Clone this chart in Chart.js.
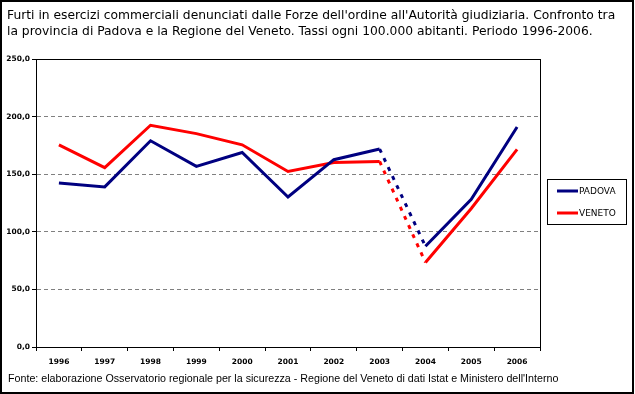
<!DOCTYPE html>
<html>
<head>
<meta charset="utf-8">
<script src="https://cdn.jsdelivr.net/npm/chart.js@4/dist/chart.umd.min.js"></script>
<style>
  html, body { margin: 0; padding: 0; background: #fff; }
  canvas { display: block; }
</style>
</head>
<body>
<canvas id="myChart" width="635" height="394"></canvas>
<script>
const years = ["1996", "1997", "1998", "1999", "2000", "2001", "2002", "2003", "2004", "2005", "2006"];
const padova = [142.3, 139.0, 179.0, 156.8, 168.8, 130.2, 162.6, 171.8, 87.4, 128.3, 191.0];
const veneto = [175.5, 155.7, 192.5, 185.2, 175.5, 152.4, 160.2, 161.1, 73.4, 120.2, 171.6];
const seriesNames = ["PADOVA", "VENETO"];
const seriesColors = ["#000080", "#ff0000"];

const titleLines = [
  "Furti in esercizi commerciali denunciati dalle Forze dell'ordine all'Autorità giudiziaria. Confronto tra",
  "la provincia di Padova e la Regione del Veneto. Tassi ogni 100.000 abitanti. Periodo 1996-2006."
];
const sourceNote = "Fonte: elaborazione Osservatorio regionale per la sicurezza - Regione del Veneto di dati Istat e Ministero dell'Interno";

// the 2003 -> 2004 step is drawn dotted in the original
const brokenStep = 7;

const tickFont = { family: "DejaVu Sans", size: 7.5, weight: "bold" };

const decorations = {
  id: "decorations",
  afterDraw(chart) {
    const ctx = chart.ctx;
    const area = chart.chartArea;
    ctx.save();

    // plot box
    ctx.strokeStyle = "#000";
    ctx.lineWidth = 1;
    ctx.setLineDash([]);
    ctx.strokeRect(Math.round(area.left) + 0.5, Math.round(area.top) + 0.5,
      Math.round(area.right - area.left), Math.round(area.bottom - area.top));

    // title
    ctx.fillStyle = "#000";
    ctx.textBaseline = "alphabetic";
    ctx.textAlign = "left";
    ctx.font = "12.3px 'DejaVu Sans'";
    titleLines.forEach((line, i) => ctx.fillText(line, 7, 19 + i * 16));

    // source
    ctx.font = "10.7px 'Liberation Sans'";
    ctx.fillText(sourceNote, 8, 382);

    // legend
    ctx.strokeRect(547.5, 179.5, 79, 45);
    ctx.font = "9px 'DejaVu Sans'";
    ctx.textBaseline = "middle";
    chart.data.datasets.forEach((ds, i) => {
      const y = 191 + i * 22;
      ctx.strokeStyle = ds.borderColor;
      ctx.lineWidth = 3;
      ctx.beginPath();
      ctx.moveTo(557, y);
      ctx.lineTo(578, y);
      ctx.stroke();
      ctx.fillStyle = "#000";
      ctx.fillText(ds.label, 579, y + 1);
    });

    // outer frame
    ctx.strokeStyle = "#000";
    ctx.lineWidth = 2;
    ctx.strokeRect(1, 1, 632, 392);
    ctx.restore();
  }
};

new Chart("myChart", {
  type: "line",
  data: {
    labels: years,
    datasets: [padova, veneto].map((values, i) => ({
      label: seriesNames[i],
      data: values,
      borderColor: seriesColors[i],
      backgroundColor: seriesColors[i],
      borderWidth: 3,
      pointRadius: 0,
      tension: 0,
      fill: false,
      segment: {
        borderDash: c => c.p0DataIndex === brokenStep ? [4, 6] : undefined
      }
    }))
  },
  options: {
    responsive: false,
    animation: false,
    devicePixelRatio: 1,
    layout: { padding: { left: 0, top: 59, right: 95, bottom: 0 } },
    plugins: {
      legend: { display: false },
      title: { display: false },
      tooltip: { enabled: false }
    },
    scales: {
      x: {
        offset: true,
        grid: {
          offset: true,
          drawOnChartArea: false,
          tickLength: 4,
          tickColor: "#000",
          tickBorderDash: []
        },
        border: { color: "#000", width: 1 },
        ticks: { font: tickFont, color: "#000", padding: 7, maxRotation: 0, autoSkip: false },
        afterFit: s => { s.height = 47; }
      },
      y: {
        min: 0,
        max: 250,
        grid: {
          color: c => (c.tick.value === 0 || c.tick.value === 250) ? "rgba(0,0,0,0)" : "#808080",
          tickLength: 4,
          tickColor: "#000",
          tickBorderDash: []
        },
        border: { color: "#000", width: 1, dash: [4, 3] },
        ticks: {
          stepSize: 50,
          font: tickFont,
          color: "#000",
          padding: 2,
          callback: v => v.toFixed(1).replace(".", ",")
        },
        afterFit: s => { s.width = 36; }
      }
    }
  },
  plugins: [decorations]
});
</script>
</body>
</html>
